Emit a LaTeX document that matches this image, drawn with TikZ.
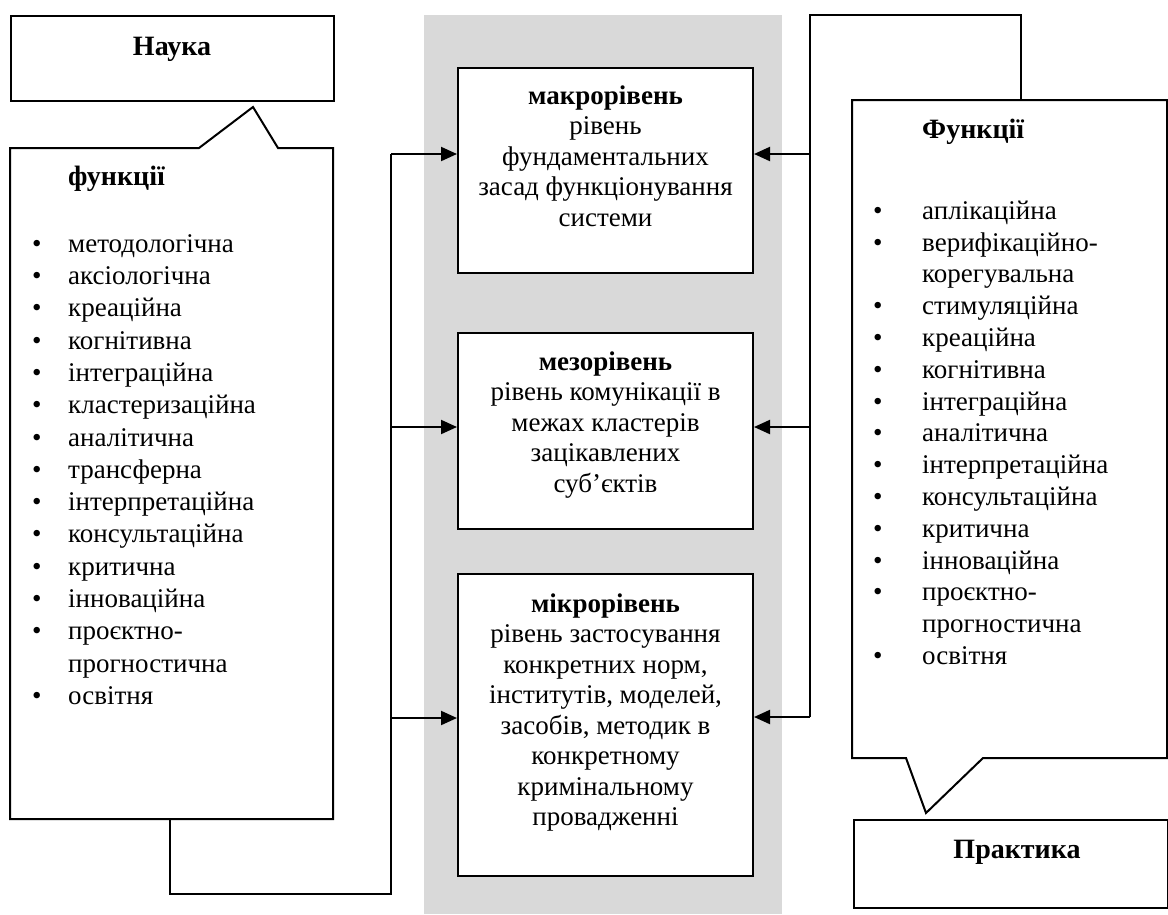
\documentclass[tikz,border=0pt]{standalone}
\usepackage{fontspec}
\setmainfont{Liberation Serif}
\usetikzlibrary{arrows.meta}
\definecolor{band}{RGB}{217,217,217}
\newcommand{\bl}[1]{\makebox[#1][l]{•}}
\begin{document}
\begin{tikzpicture}[x=1pt,y=-1pt,
  line/.style={line width=2pt, line join=miter},
  box/.style={draw, line width=2pt, fill=white, rectangle, inner sep=0pt, anchor=north west},
  arr/.style={line width=2pt, -{Triangle[length=16pt,width=14pt]}},
  lst/.style={font=\fontsize{27}{32.3}\selectfont, inner sep=0pt, align=left, anchor=north west},
  rlst/.style={font=\fontsize{27}{31.8}\selectfont, inner sep=0pt, align=left, anchor=north west},
  ctr/.style={font=\fontsize{27}{30.5}\selectfont, inner sep=0pt, align=center, anchor=north},
  hd/.style={font=\fontsize{28}{32}\selectfont\bfseries, inner sep=0pt}
]
\useasboundingbox (0,0) rectangle (1168,914);
\fill[band] (424,15) rectangle (782,914);

% Nauka
\node[box, minimum width=323pt, minimum height=85pt] (nauka) at (10,15) {};
\node[hd, anchor=base] (naukat) at (172,55) {Наука};

% left callout
\draw[line] (10,148) -- (199,148) -- (253,107) -- (278,148) -- (333,148) -- (333,819) -- (10,819) -- cycle;
\node[hd, anchor=base west] (lfun) at (68,185) {функції};
\node[lst] (llist) at (32,228) {\rule{0pt}{24pt}\bl{36pt}методологічна\\
\bl{36pt}аксіологічна\\
\bl{36pt}креаційна\\
\bl{36pt}когнітивна\\
\bl{36pt}інтеграційна\\
\bl{36pt}кластеризаційна\\
\bl{36pt}аналітична\\
\bl{36pt}трансферна\\
\bl{36pt}інтерпретаційна\\
\bl{36pt}консультаційна\\
\bl{36pt}критична\\
\bl{36pt}інноваційна\\
\bl{36pt}проєктно-\\
\hspace*{36pt}прогностична\\
\bl{36pt}освітня};

% centre boxes
\node[box, minimum width=295pt, minimum height=205pt] (macro) at (457,67) {};
\node[ctr] (macrot) at ([yshift=-13pt]macro.north) {\rule{0pt}{24pt}\textbf{макрорівень}\\рівень\\фундаментальних\\засад функціонування\\системи};
\node[box, minimum width=295pt, minimum height=196pt] (meso) at (457,332) {};
\node[ctr] (mesot) at ([yshift=-14pt]meso.north) {\rule{0pt}{24pt}\textbf{мезорівень}\\рівень комунікації в\\межах кластерів\\зацікавлених\\суб’єктів};
\node[box, minimum width=295pt, minimum height=302pt] (micro) at (457,573) {};
\node[ctr] (microt) at ([yshift=-15pt]micro.north) {\rule{0pt}{24pt}\textbf{мікрорівень}\\рівень застосування\\конкретних норм,\\інститутів, моделей,\\засобів, методик в\\конкретному\\кримінальному\\провадженні};

% right callout
\draw[line] (852,100) -- (1167,100) -- (1167,758) -- (983,758) -- (926,813) -- (906,758) -- (852,758) -- cycle;
\node[hd, anchor=base west] (rfun) at (922,138) {Функції};
\node[rlst] (rlist) at (873,195) {\rule{0pt}{24pt}\bl{49pt}аплікаційна\\
\bl{49pt}верифікаційно-\\
\hspace*{49pt}корегувальна\\
\bl{49pt}стимуляційна\\
\bl{49pt}креаційна\\
\bl{49pt}когнітивна\\
\bl{49pt}інтеграційна\\
\bl{49pt}аналітична\\
\bl{49pt}інтерпретаційна\\
\bl{49pt}консультаційна\\
\bl{49pt}критична\\
\bl{49pt}інноваційна\\
\bl{49pt}проєктно-\\
\hspace*{49pt}прогностична\\
\bl{49pt}освітня};

% Praktyka
\node[box, minimum width=314pt, minimum height=88pt] (prak) at (853,819) {};
\node[hd, anchor=base] (prakt) at (1017,858) {Практика};

% left connector
\coordinate (lb) at (170,819);
\coordinate (lc1) at (170,894);
\coordinate (lc2) at (391,894);
\coordinate (la1) at (391,154);
\coordinate (la2) at (391,427);
\coordinate (la3) at (391,718);
\draw[line] (lb) -- (lc1) -- (lc2) -- (la1);
\draw[arr] (la1) -- (la1 -| macro.west);
\draw[arr] (la2) -- (la2 -| meso.west);
\draw[arr] (la3) -- (la3 -| micro.west);

% right connector
\coordinate (rt) at (1021,100);
\coordinate (rc1) at (1021,15);
\coordinate (rc2) at (810,15);
\coordinate (ra1) at (810,154);
\coordinate (ra2) at (810,427);
\coordinate (ra3) at (810,717);
\draw[line] (rt) -- (rc1) -- (rc2) -- (ra3);
\draw[arr] (ra1) -- (ra1 -| macro.east);
\draw[arr] (ra2) -- (ra2 -| meso.east);
\draw[arr] (ra3) -- (ra3 -| micro.east);
\end{tikzpicture}
\end{document}
